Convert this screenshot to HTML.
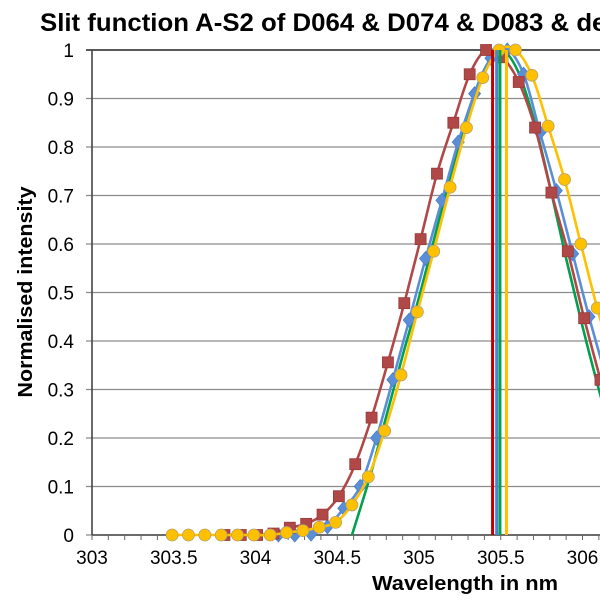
<!DOCTYPE html>
<html><head><meta charset="utf-8"><style>
html,body{margin:0;padding:0;background:#fff;}
svg{display:block;font-family:"Liberation Sans",Arial,sans-serif;}
</style></head><body>
<svg id="chart" width="600" height="600" viewBox="0 0 600 600">
<text x="40" y="31" font-size="25" font-weight="bold" fill="#000" textLength="575" lengthAdjust="spacingAndGlyphs">Slit function A-S2 of D064 &amp; D074 &amp; D083 &amp; det</text>
<g id="grid"></g>
<g id="axes"></g>
<g id="series"></g>
<text x="465" y="590" font-size="20" font-weight="bold" text-anchor="middle" textLength="186" lengthAdjust="spacingAndGlyphs">Wavelength in nm</text>
<text transform="translate(32,292) rotate(-90)" font-size="20" font-weight="bold" text-anchor="middle" textLength="211" lengthAdjust="spacingAndGlyphs">Normalised intensity</text>
</svg>
<script>
const xTicks=[303,303.5,304,304.5,305,305.5,306];
const xTickLabels=["303","303.5","304","304.5","305","305.5","306"];
const yTicks=[0,0.1,0.2,0.3,0.4,0.5,0.6,0.7,0.8,0.9,1];
const yTickLabels=["0","0.1","0.2","0.3","0.4","0.5","0.6","0.7","0.8","0.9","1"];
const yellowX=[303.49,303.59,303.69,303.79,303.89,303.99,304.09,304.19,304.29,304.39,304.49,304.59,304.69,304.79,304.89,304.99,305.09,305.19,305.29,305.39,305.49,305.59,305.69,305.79,305.89,305.99,306.09,306.19];
const yellowY=[0,0,0,0,0,0,0,0.005,0.009,0.016,0.026,0.062,0.12,0.215,0.33,0.46,0.585,0.717,0.84,0.943,1.0,1.0,0.948,0.843,0.733,0.6,0.468,0.35];
const redX=[303.81,303.91,304.01,304.11,304.21,304.31,304.41,304.51,304.61,304.71,304.81,304.91,305.01,305.11,305.21,305.31,305.41,305.51,305.61,305.71,305.81,305.91,306.01,306.11];
const redY=[0,0,0,0.003,0.015,0.023,0.042,0.08,0.146,0.242,0.356,0.478,0.61,0.745,0.85,0.95,1.0,0.985,0.934,0.84,0.706,0.585,0.447,0.32];
const blueX=[304.14,304.24,304.34,304.44,304.54,304.64,304.74,304.84,304.94,305.04,305.14,305.24,305.34,305.44,305.54,305.64,305.74,305.84,305.94,306.04,306.14];
const blueY=[0,0,0.002,0.017,0.055,0.1,0.2,0.32,0.443,0.57,0.69,0.81,0.91,0.983,1.0,0.95,0.83,0.71,0.58,0.45,0.33];
const greenX=[304.59,304.7,304.8,304.9,305.0,305.1,305.2,305.3,305.4,305.5,305.6,305.7,305.8,305.9,306.0,306.1,306.2];
const greenY=[0,0.12,0.245,0.37,0.49,0.62,0.75,0.87,0.96,1.0,0.96,0.86,0.72,0.57,0.43,0.3,0.18];
const centreX=[305.45,305.475,305.495,305.535];
const centreColors=["#c00000","#4a86d4","#00a050","#ffc000"];
const NS="http://www.w3.org/2000/svg";
const X0=92,PX=163.5,Y0=535,YH=485;
function sx(v){return X0+(v-303)*PX;}
function sy(v){return Y0-v*YH;}
function mk(tag,attrs,parent){const e=document.createElementNS(NS,tag);for(const k in attrs)e.setAttribute(k,attrs[k]);parent.appendChild(e);return e;}
const grid=document.getElementById('grid'),axes=document.getElementById('axes'),ser=document.getElementById('series');
yTicks.forEach((t,i)=>{
  const l=mk('line',{x1:X0-6,x2:600,y1:sy(t),y2:sy(t),stroke:i==yTicks.length-1?'#222':'#8c8c8c','stroke-width':i==yTicks.length-1?1.6:1.2},grid);
  
  
  const tx=mk('text',{x:X0-18,y:sy(t)+7,'font-size':19,'text-anchor':'end'},axes);
  tx.textContent=yTickLabels[i];
  
  
});
const ya=mk('line',{x1:X0,x2:X0,y1:sy(1),y2:Y0,stroke:'#444','stroke-width':1.6},axes);


const xa=mk('line',{x1:X0,x2:600,y1:Y0,y2:Y0,stroke:'#444','stroke-width':1.6},axes);


for(let k=0;k<=32;k++){const v=303+k*0.1;const x=sx(v);if(x>600)break;
  const tk=mk('line',{x1:x,x2:x,y1:Y0,y2:Y0+5,stroke:'#666','stroke-width':1},axes);
  
  }
xTicks.forEach((t,i)=>{
  const tx=mk('text',{x:sx(t),y:Y0+29,'font-size':19,'text-anchor':'middle'},axes);
  tx.textContent=xTickLabels[i];
  
  
});
function smooth(xs,ys){const p=xs.map((x,i)=>[sx(x),sy(ys[i])]);let d='M'+p[0][0]+','+p[0][1];
  for(let i=0;i<p.length-1;i++){const p0=p[i-1]||p[i],p1=p[i],p2=p[i+1],p3=p[i+2]||p2;
    const c1=[p1[0]+(p2[0]-p0[0])/6,p1[1]+(p2[1]-p0[1])/6],c2=[p2[0]-(p3[0]-p1[0])/6,p2[1]-(p3[1]-p1[1])/6];
    d+=' C'+c1+' '+c2+' '+p2;}return d;}
function series(xs,ys,color,marker,name){
  const g=mk('g',{},ser);
  
  
  const pth=mk('path',{d:smooth(xs,ys),fill:'none',stroke:color,'stroke-width':2.6},g);
  
  
  xs.forEach((x,i)=>{const cx=sx(x),cy=sy(ys[i]);let m;
    if(marker==='square')m=mk('rect',{x:cx-5.5,y:cy-5.5,width:11,height:11,fill:'#b04848',stroke:'#9a3a3a','stroke-width':0.8},g);
    else if(marker==='diamond')m=mk('path',{d:`M${cx},${cy-7}L${cx+6},${cy}L${cx},${cy+7}L${cx-6},${cy}Z`,fill:'#5a8fd8',stroke:'#4a7fc8','stroke-width':0.8},g);
    else if(marker==='circle')m=mk('circle',{cx:cx,cy:cy,r:6,fill:'#ffc000',stroke:'#b0a070','stroke-width':0.8},g);
    if(m){
      }
  });
}
series(greenX,greenY,'#00a050',null,'series-green');
series(blueX,blueY,'#5a8fd8','diamond','series-blue');
series(redX,redY,'#b04848','square','series-red');
series(yellowX,yellowY,'#ffc000','circle','series-yellow');
centreX.forEach((c,i)=>{const l=mk('line',{x1:sx(c),x2:sx(c),y1:sy(1),y2:Y0,stroke:centreColors[i],'stroke-width':3},ser);
  
  });
</script>
</body></html>
